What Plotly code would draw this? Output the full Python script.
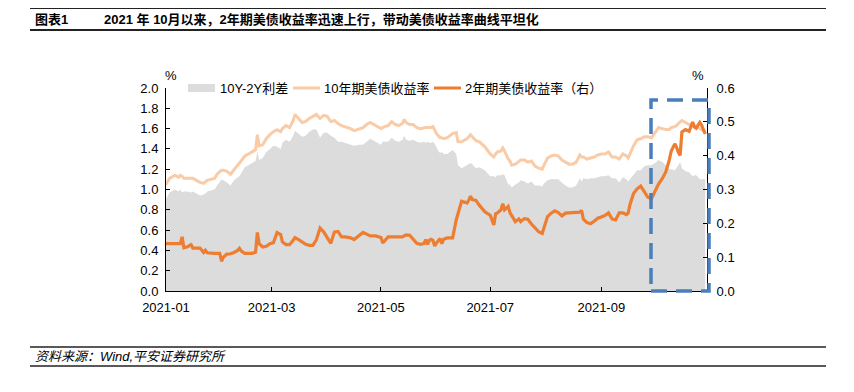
import plotly.graph_objects as go

# ---------------- data ----------------
dates = [
    # Jan
    "2021-01-01", "2021-01-03", "2021-01-06", "2021-01-08", "2021-01-09", "2021-01-10", "2021-01-11",
    "2021-01-13", "2021-01-15", "2021-01-16", "2021-01-18", "2021-01-20", "2021-01-22", "2021-01-23",
    "2021-01-24", "2021-01-26", "2021-01-28", "2021-01-30", "2021-01-31",
    # Feb
    "2021-02-01", "2021-02-02", "2021-02-04", "2021-02-06", "2021-02-08", "2021-02-10", "2021-02-11",
    "2021-02-12", "2021-02-14", "2021-02-16", "2021-02-18", "2021-02-20", "2021-02-21", "2021-02-22",
    "2021-02-24", "2021-02-26", "2021-02-28",
    # Mar
    "2021-03-02", "2021-03-04", "2021-03-06", "2021-03-07", "2021-03-09", "2021-03-11", "2021-03-13",
    "2021-03-14", "2021-03-16", "2021-03-18", "2021-03-20", "2021-03-22", "2021-03-24", "2021-03-26",
    "2021-03-28", "2021-03-30",
    # Apr
    "2021-04-01", "2021-04-03", "2021-04-05", "2021-04-07", "2021-04-09", "2021-04-11", "2021-04-14",
    "2021-04-16", "2021-04-19", "2021-04-21", "2021-04-23", "2021-04-25", "2021-04-28",
    # May
    "2021-05-01", "2021-05-02", "2021-05-03", "2021-05-05", "2021-05-07", "2021-05-09", "2021-05-11",
    "2021-05-13", "2021-05-14", "2021-05-15", "2021-05-17", "2021-05-19", "2021-05-21", "2021-05-23",
    "2021-05-25", "2021-05-26", "2021-05-27", "2021-05-28", "2021-05-29", "2021-05-30", "2021-05-31",
    # Jun
    "2021-06-01", "2021-06-02", "2021-06-03", "2021-06-04", "2021-06-05", "2021-06-07", "2021-06-10",
    "2021-06-12", "2021-06-13", "2021-06-15", "2021-06-17", "2021-06-18", "2021-06-19", "2021-06-20",
    "2021-06-21", "2021-06-23", "2021-06-25", "2021-06-28",
    # Jul
    "2021-07-01", "2021-07-03", "2021-07-04", "2021-07-05", "2021-07-07", "2021-07-08", "2021-07-09",
    "2021-07-11", "2021-07-12", "2021-07-13", "2021-07-15", "2021-07-17", "2021-07-18", "2021-07-20",
    "2021-07-22", "2021-07-24", "2021-07-26", "2021-07-28", "2021-07-30", "2021-07-31",
    # Aug
    "2021-08-02", "2021-08-04", "2021-08-06", "2021-08-08", "2021-08-10", "2021-08-12", "2021-08-14",
    "2021-08-16", "2021-08-18", "2021-08-20", "2021-08-21", "2021-08-22", "2021-08-24", "2021-08-26",
    "2021-08-28", "2021-08-30",
    # Sep
    "2021-09-01", "2021-09-03", "2021-09-05", "2021-09-07", "2021-09-09", "2021-09-11", "2021-09-13",
    "2021-09-15", "2021-09-16", "2021-09-17", "2021-09-19", "2021-09-21", "2021-09-23", "2021-09-25",
    "2021-09-27", "2021-09-29",
    # Oct
    "2021-10-01", "2021-10-03", "2021-10-05", "2021-10-07", "2021-10-09", "2021-10-10", "2021-10-12",
    "2021-10-13", "2021-10-14", "2021-10-15", "2021-10-16", "2021-10-18", "2021-10-20", "2021-10-22",
    "2021-10-23", "2021-10-24", "2021-10-25", "2021-10-26", "2021-10-27", "2021-10-28", "2021-10-29",
]

# 10-year US Treasury yield (%), left axis
ten_year = [
    1.05, 1.11, 1.14, 1.12, 1.14, 1.13, 1.11, 1.11, 1.11, 1.11, 1.09, 1.07, 1.06, 1.08, 1.09, 1.10, 1.11, 1.16, 1.18,
    1.19, 1.19, 1.18, 1.15, 1.20, 1.24, 1.26, 1.28, 1.33, 1.35, 1.37, 1.39, 1.54, 1.43, 1.44, 1.50, 1.54,
    1.57, 1.59, 1.57, 1.60, 1.63, 1.61, 1.68, 1.74, 1.70, 1.66, 1.67, 1.70, 1.72, 1.74, 1.70, 1.73,
    1.72, 1.67, 1.68, 1.65, 1.63, 1.62, 1.60, 1.58, 1.60, 1.61, 1.64, 1.66, 1.63,
    1.60, 1.61, 1.62, 1.63, 1.67, 1.64, 1.63, 1.65, 1.69, 1.66, 1.64, 1.64, 1.61, 1.60, 1.61, 1.61, 1.61, 1.61, 1.61, 1.62, 1.58,
    1.55, 1.53, 1.51, 1.51, 1.50, 1.51, 1.55, 1.56, 1.47, 1.47, 1.49, 1.50, 1.52, 1.54, 1.52, 1.48, 1.47, 1.42,
    1.35, 1.32, 1.35, 1.37, 1.38, 1.41, 1.38, 1.30, 1.28, 1.24, 1.25, 1.28, 1.29, 1.29, 1.27, 1.28, 1.23, 1.21, 1.20, 1.24,
    1.31, 1.33, 1.34, 1.33, 1.29, 1.27, 1.25, 1.25, 1.27, 1.34, 1.32, 1.32, 1.30, 1.31, 1.32, 1.34,
    1.35, 1.35, 1.37, 1.32, 1.32, 1.30, 1.35, 1.33, 1.31, 1.35, 1.43, 1.49, 1.50, 1.52, 1.52, 1.51,
    1.56, 1.61, 1.60, 1.59, 1.59, 1.61, 1.62, 1.63, 1.65, 1.67, 1.68, 1.66, 1.64, 1.63, 1.62, 1.62, 1.61, 1.60, 1.59, 1.58, 1.56,
]

# 2-year US Treasury yield (%), right axis
two_year = [
    0.140, 0.140, 0.140, 0.140, 0.140, 0.160, 0.128, 0.131, 0.137, 0.127, 0.127, 0.127, 0.114, 0.120, 0.113, 0.111, 0.111, 0.111, 0.111,
    0.088, 0.100, 0.109, 0.110, 0.114, 0.120, 0.126, 0.118, 0.111, 0.111, 0.111, 0.115, 0.173, 0.140, 0.130, 0.132, 0.140,
    0.143, 0.173, 0.167, 0.145, 0.137, 0.137, 0.150, 0.158, 0.152, 0.145, 0.138, 0.135, 0.135, 0.152, 0.186, 0.175,
    0.160, 0.141, 0.174, 0.176, 0.160, 0.160, 0.157, 0.152, 0.165, 0.173, 0.168, 0.163, 0.163,
    0.158, 0.142, 0.147, 0.160, 0.160, 0.160, 0.160, 0.160, 0.163, 0.166, 0.165, 0.152, 0.141, 0.138, 0.140, 0.152, 0.138, 0.150, 0.153, 0.150, 0.133,
    0.142, 0.150, 0.155, 0.140, 0.153, 0.157, 0.157, 0.210, 0.229, 0.265, 0.262, 0.260, 0.268, 0.280, 0.270, 0.268, 0.253, 0.234,
    0.224, 0.195, 0.228, 0.231, 0.240, 0.258, 0.240, 0.250, 0.232, 0.222, 0.205, 0.213, 0.205, 0.214, 0.212, 0.198, 0.188, 0.175, 0.170, 0.185,
    0.220, 0.230, 0.237, 0.232, 0.222, 0.230, 0.231, 0.231, 0.233, 0.233, 0.238, 0.212, 0.202, 0.199, 0.206, 0.215,
    0.219, 0.223, 0.231, 0.213, 0.210, 0.231, 0.231, 0.226, 0.230, 0.255, 0.288, 0.302, 0.310, 0.292, 0.277, 0.273,
    0.297, 0.317, 0.332, 0.352, 0.388, 0.413, 0.435, 0.425, 0.410, 0.401, 0.470, 0.477, 0.472, 0.499, 0.485, 0.481, 0.490, 0.498, 0.490, 0.478, 0.464,
]

# 10Y-2Y spread (%), left axis, grey area
spread = [
    0.91, 0.97, 1.00, 0.98, 1.00, 0.97, 0.98, 0.98, 0.97, 0.98, 0.96, 0.94, 0.95, 0.96, 0.98, 0.99, 1.00, 1.05, 1.07,
    1.10, 1.09, 1.07, 1.04, 1.09, 1.12, 1.13, 1.16, 1.22, 1.24, 1.26, 1.28, 1.37, 1.29, 1.31, 1.37, 1.40,
    1.43, 1.42, 1.40, 1.46, 1.49, 1.47, 1.53, 1.58, 1.55, 1.52, 1.53, 1.57, 1.59, 1.59, 1.51, 1.56,
    1.56, 1.53, 1.51, 1.47, 1.47, 1.46, 1.44, 1.43, 1.44, 1.44, 1.47, 1.50, 1.47,
    1.44, 1.47, 1.47, 1.47, 1.51, 1.48, 1.47, 1.49, 1.53, 1.49, 1.48, 1.49, 1.47, 1.46, 1.47, 1.46, 1.47, 1.46, 1.46, 1.47, 1.45,
    1.41, 1.38, 1.36, 1.37, 1.35, 1.35, 1.39, 1.35, 1.24, 1.21, 1.23, 1.24, 1.25, 1.26, 1.25, 1.21, 1.22, 1.19,
    1.13, 1.13, 1.12, 1.14, 1.14, 1.15, 1.14, 1.05, 1.05, 1.02, 1.05, 1.07, 1.09, 1.08, 1.06, 1.08, 1.04, 1.04, 1.03, 1.06,
    1.09, 1.10, 1.10, 1.10, 1.07, 1.04, 1.02, 1.02, 1.04, 1.11, 1.08, 1.11, 1.10, 1.11, 1.11, 1.12,
    1.13, 1.13, 1.14, 1.11, 1.11, 1.07, 1.12, 1.10, 1.08, 1.10, 1.14, 1.19, 1.19, 1.23, 1.24, 1.24,
    1.26, 1.29, 1.27, 1.24, 1.20, 1.20, 1.19, 1.21, 1.24, 1.27, 1.21, 1.18, 1.17, 1.13, 1.14, 1.14, 1.12, 1.10, 1.10, 1.10, 1.10,
]

tick_dates = ["2021-01-01", "2021-03-01", "2021-05-01", "2021-07-01", "2021-09-01"]
tick_labels = ["2021-01", "2021-03", "2021-05", "2021-07", "2021-09"]

series_names = ["10Y-2Y利差", "10年期美债收益率", "2年期美债收益率（右）"]
title_tag = "图表1"
title_text = "2021 年 10月以来，2年期美债收益率迅速上行，带动美债收益率曲线平坦化"
source_text = "资料来源：Wind,平安证券研究所"

# ---------------- styling ----------------
FONT = "Liberation Sans, Arial, Noto Sans CJK SC, sans-serif"
GREY = "#DCDCDC"
PEACH = "#F9CBA7"
ORANGE = "#ED7D31"
BLUE = "#4A7EBB"

OFF = 8                     # page body margin of the browser
W, H = 854 - OFF, 392 - OFF
# target pixel box of the plot area in the screenshot: x 166..707, y 88..291
L, R, T, B = 166 - OFF, W - (707 - OFF), 88 - OFF, H - (291 - OFF)
PW, PH = W - L - R, H - T - B


def px(xs):
    """screenshot x pixel -> paper fraction"""
    return (xs - OFF - L) / PW


def py(ys):
    """screenshot y pixel -> paper fraction"""
    return (T + PH - (ys - OFF)) / PH


fig = go.Figure()
fig.add_trace(go.Scatter(x=dates, y=spread, name=series_names[0], mode="lines",
                         line=dict(width=0, color=GREY), fill="tozeroy", fillcolor=GREY,
                         yaxis="y"))
fig.add_trace(go.Scatter(x=dates, y=ten_year, name=series_names[1], mode="lines",
                         line=dict(width=3, color=PEACH), yaxis="y"))
fig.add_trace(go.Scatter(x=dates, y=two_year, name=series_names[2], mode="lines",
                         line=dict(width=3.2, color=ORANGE), yaxis="y2"))

axis_common = dict(showgrid=False, zeroline=False, showline=True, linecolor="black", linewidth=1,
                   ticks="inside", ticklen=4, tickcolor="black", tickwidth=1,
                   tickfont=dict(family=FONT, size=13, color="black"))

fig.update_layout(
    width=W, height=H,
    margin=dict(l=L, r=R, t=T, b=B),
    paper_bgcolor="white", plot_bgcolor="white",
    showlegend=False,
    font=dict(family=FONT, size=13, color="black"),
    xaxis=dict(type="date", range=["2021-01-01", "2021-10-30"],
               tickmode="array", tickvals=tick_dates, ticktext=tick_labels,
               ticklabelstandoff=4, **axis_common),
    yaxis=dict(range=[0, 2.0], tick0=0, dtick=0.2, tickformat=".1f",
               ticklabelstandoff=4, **axis_common),
    yaxis2=dict(range=[0, 0.6], tick0=0, dtick=0.1, tickformat=".1f", overlaying="y", side="right",
                ticklabelstandoff=6, **axis_common),
)

shapes = []
annotations = []

# title rules and source rules
for yline, w in [(8, 2), (30, 2), (347, 1.5), (366, 1.5)]:
    shapes.append(dict(type="line", xref="paper", yref="paper", x0=px(30), x1=px(826),
                       y0=py(yline), y1=py(yline), line=dict(color="#222222", width=w)))

annotations.append(dict(text="<b>" + title_tag + "</b>", xref="paper", yref="paper",
                        x=px(33), y=py(19), xanchor="left", yanchor="middle", showarrow=False,
                        font=dict(family=FONT, size=13, color="black")))
annotations.append(dict(text="<b>" + title_text + "</b>", xref="paper", yref="paper",
                        x=px(102), y=py(19), xanchor="left", yanchor="middle", showarrow=False,
                        font=dict(family=FONT, size=13, color="black")))
annotations.append(dict(text="<i>" + source_text + "</i>", xref="paper", yref="paper",
                        x=px(33), y=py(356), xanchor="left", yanchor="middle", showarrow=False,
                        font=dict(family=FONT, size=13, color="black")))

# axis unit labels
annotations.append(dict(text="%", xref="paper", yref="paper", x=px(171), y=py(75),
                        xanchor="center", yanchor="middle", showarrow=False,
                        font=dict(family=FONT, size=13, color="black")))
annotations.append(dict(text="%", xref="paper", yref="paper", x=px(698), y=py(75),
                        xanchor="center", yanchor="middle", showarrow=False,
                        font=dict(family=FONT, size=13, color="black")))

# custom legend
shapes.append(dict(type="rect", xref="paper", yref="paper", x0=px(188), x1=px(215),
                   y0=py(92), y1=py(84), fillcolor=GREY, line=dict(width=0)))
shapes.append(dict(type="line", xref="paper", yref="paper", x0=px(293), x1=px(320),
                   y0=py(88), y1=py(88), line=dict(color=PEACH, width=3)))
shapes.append(dict(type="line", xref="paper", yref="paper", x0=px(434), x1=px(461),
                   y0=py(88), y1=py(88), line=dict(color=ORANGE, width=3)))
for xt, name in zip([218, 322, 463], series_names):
    annotations.append(dict(text=name, xref="paper", yref="paper", x=px(xt), y=py(88),
                            xanchor="left", yanchor="middle", showarrow=False,
                            font=dict(family=FONT, size=13, color="black")))

# highlighted region (dashed blue box)
shapes.append(dict(type="rect", xref="paper", yref="paper", x0=px(651), x1=px(709),
                   y0=py(291), y1=py(100), fillcolor="rgba(0,0,0,0)",
                   line=dict(color=BLUE, width=3.5, dash="16px,9px")))

fig.update_layout(shapes=shapes, annotations=annotations)
fig.write_html("out.html")
